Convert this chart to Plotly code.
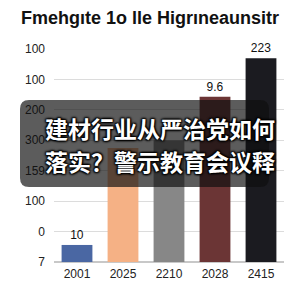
import plotly.graph_objects as go

categories = ["2001", "2025", "2210", "2028", "2415"]
values = [0.56, 3.75, 4.0, 5.43, 6.7]
value_labels = ["10", "", "", "9.6", "223"]
bar_colors = ["#4a67a3", "#f5b185", "#878787", "#6b3535", "#1b1b20"]
y_tickvals = [0, 1, 2, 3, 4, 5, 6, 7]
y_ticktext = ["7", "0", "100", "159", "300", "200", "100", "100"]
title_text = "Fmehgıte 1o lle Higrıneaunsitr"
overlay_lines = ["建材行业从严治党如何", "落实？警示教育会议释"]

W, H = 288, 288
L, R, T, B = 54, 4, 49, 26
pw, ph = W - L - R, H - T - B

def px(x):
    return (x - L) / pw

def py(y):
    return (H - B - y) / ph

fig = go.Figure()
fig.add_trace(go.Bar(
    x=categories, y=values, marker=dict(color=bar_colors, line=dict(width=0)),
    text=value_labels, textposition="outside", cliponaxis=False,
    textfont=dict(size=12, color="#111", family="Liberation Sans"),
))

# rounded overlay box
x0, x1, y0, y1, r = 20, 269, 100, 187, 9
path = (f"M {px(x0+r)},{py(y0)} L {px(x1-r)},{py(y0)} Q {px(x1)},{py(y0)} {px(x1)},{py(y0+r)} "
        f"L {px(x1)},{py(y1-r)} Q {px(x1)},{py(y1)} {px(x1-r)},{py(y1)} "
        f"L {px(x0+r)},{py(y1)} Q {px(x0)},{py(y1)} {px(x0)},{py(y1-r)} "
        f"L {px(x0)},{py(y0+r)} Q {px(x0)},{py(y0)} {px(x0+r)},{py(y0)} Z")
fig.add_shape(type="path", path=path, xref="paper", yref="paper",
              fillcolor="rgba(15,15,15,0.68)", line=dict(width=0), layer="above")

for i, (line, yy) in enumerate(zip(overlay_lines, [128, 161])):
    fig.add_annotation(text=f"<b>{line}</b>", xref="paper", yref="paper",
                       x=px(160), y=py(yy), xanchor="center", yanchor="middle",
                       showarrow=False,
                       font=dict(size=23, color="white", family="Noto Sans CJK SC",
                                 shadow="1px 1px 2px #000, -1px -1px 2px #000, 1px -1px 2px #000, -1px 1px 2px #000"))

fig.add_annotation(text=f"<b>{title_text}</b>", xref="paper", yref="paper",
                   x=px(150), y=py(18), xanchor="center", yanchor="middle", showarrow=False,
                   font=dict(size=18, color="#111", family="Liberation Sans"))

fig.update_layout(
    width=W, height=H, margin=dict(l=L, r=R, t=T, b=B),
    paper_bgcolor="white", plot_bgcolor="white", showlegend=False,
    bargap=0.33,
    xaxis=dict(type="category", showgrid=False, showline=False, ticks="",
               ticklabelstandoff=3,
               tickfont=dict(size=12, color="#222", family="Liberation Sans")),
    yaxis=dict(range=[0, 7], tickvals=y_tickvals, ticktext=y_ticktext,
               showgrid=True, gridcolor="#dcdcdc", gridwidth=1, zeroline=True,
               zerolinecolor="#c8c8c8", showline=False, ticks="", ticklabelstandoff=8,
               tickfont=dict(size=12, color="#222", family="Liberation Sans")),
)

fig.write_html("out.html")
